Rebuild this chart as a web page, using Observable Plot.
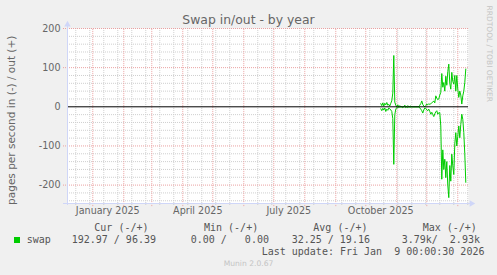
<!DOCTYPE html>
<html>
<head>
<meta charset="utf-8">
<script src="https://cdn.jsdelivr.net/npm/d3@7"></script>
<script src="https://cdn.jsdelivr.net/npm/@observablehq/plot@0.6"></script>
<style>
  html, body { margin: 0; padding: 0; background: #f0f0f0; }
  #wrap { position: relative; width: 497px; height: 275px; background: #f0f0f0; overflow: hidden; }
  #chart { position: absolute; left: 0; top: 0; }
  .t { position: absolute; line-height: 1; white-space: pre; font-family: "DejaVu Sans", sans-serif; color: #666; }
  .m { position: absolute; line-height: 1; white-space: pre; font-family: "DejaVu Sans Mono", monospace; font-size: 10px; color: #555; }
</style>
</head>
<body>
<div id="wrap">
  <div id="chart"></div>
  <div class="t" id="title" style="left:0;width:497px;top:13.5px;text-align:center;font-size:12.4px;">Swap in/out - by year</div>
  <div class="t" id="ylabel" style="left:-89px;width:200px;top:115px;text-align:center;font-size:10.5px;transform:rotate(-90deg);transform-origin:50% 50%;">pages per second in (-) / out (+)</div>
  <div class="t" id="wm" style="left:428.5px;width:120px;top:49.5px;text-align:center;font-size:7.5px;color:#c4c4c4;transform:rotate(90deg);transform-origin:50% 50%;">RRDTOOL / TOBI OETIKER</div>
  <div id="legend"></div>
  <div class="t" id="munin" style="left:0;width:497px;top:260px;text-align:center;font-size:7.6px;color:#c4c4c4;">Munin 2.0.67</div>
</div>
<script>
// ---- data ----
const seriesName = "swap";
const seriesColor = "#00cc00";
const firstDate = "2025-10-16"; // daily samples from this date
const outValues = [
  8, 3, 10, 2, 9, 5, 11, 4, 6, 2, 9, 15, 35, 131, 12, 4,
  0, 5, 0, 3, 0, 0, 0, 0, 4, 0, 0, 3, 0, 0, 2, 0, 0, 0, 0, 0, 0, 0, 0, 4, 8, 15, 6, 2, 0, 3,
  7, 5, 8, 6, 8, 10, 12, 15, 10, 28, 22, 18, 20,
  30, 37, 85, 50, 62, 40, 78, 55, 90, 109, 60, 45, 88, 65, 58, 80, 40, 80,
  45, 24, 40, 30, 7, 28, 40, 62, 96.39
];
const inValues = [
  5, 10, 4, 8, 3, 12, 6, 9, 3, 5, 8, 12, 30, 147, 20, 6,
  2, 3, 0, 1, 0, 0, 2, 0, 0, 2, 0, 2, 0, 0, 1, 0, 0, 0, 0, 0, 0, 0, 0, 3, 6, 10, 16, 8, 3, 4,
  8, 10, 6, 12, 19, 14, 20, 25, 18, 13, 10, 19, 15,
  15, 49, 185, 110, 160, 134, 181, 140, 200, 232, 150, 190, 121, 151, 173, 95, 66, 100,
  75, 49, 79, 45, 19, 32, 66, 120, 192.97
];
const xLabels = ["January 2025", "April 2025", "July 2025", "October 2025"];
const xLabelDates = ["2025-01-16", "2025-04-16", "2025-07-16", "2025-10-16"];
const yTicks = [-200, -100, 0, 100, 200];
const legendHeaders = ["Cur (-/+)", "Min (-/+)", "Avg (-/+)", "Max (-/+)"];
const legendValues = ["192.97 / 96.39", "0.00 /   0.00", "32.25 / 19.16", "3.79k/  2.93k"];
const lastUpdate = "Last update: Fri Jan  9 00:00:30 2026";

// ---- scales / layout ----
const xDomain = [new Date("2024-12-06T17:00:00Z"), new Date("2026-01-11T17:00:00Z")];
const yDomain = [-247, 200];
const day = (d, n) => d3.utcDay.offset(d, n);

const start = new Date(firstDate + "T00:00:00Z");
const outData = outValues.map((v, i) => ({date: day(start, i), value: v}));
const inData = inValues.map((v, i) => ({date: day(start, i), value: -v}));

const monthLines = d3.utcMonth.range(new Date("2025-01-01T00:00:00Z"), xDomain[1]);
const minorX = d3.utcDay.range(new Date("2024-12-15T00:00:00Z"), xDomain[1], 14)
  .filter(d => !monthLines.some(m => +m === +d));
const minorY = d3.range(-240, 201, 20).filter(v => v % 100 !== 0);
const majorY = yTicks.filter(v => v !== 0);
const labelData = xLabelDates.map((d, i) => ({date: new Date(d + "T00:00:00Z"), label: xLabels[i]}));

const minorColor = "#cfcfcf";
const majorColor = "#eaa2a2";
const axisColor = "#CFD6F8";

const chart = Plot.plot({
  width: 497,
  height: 220,
  marginLeft: 67,
  marginRight: 29,
  marginTop: 28,
  marginBottom: 17,
  x: {type: "utc", domain: xDomain, axis: null},
  y: {domain: yDomain, axis: null},
  style: {background: "transparent", fontFamily: "DejaVu Sans", fontSize: "9.6px", color: "#666", overflow: "visible"},
  marks: [
    Plot.frame({fill: "white", stroke: null}),
    Plot.ruleY(minorY, {x1: xDomain[0], x2: xDomain[1], stroke: minorColor, strokeDasharray: "1,1"}),
    Plot.ruleX(minorX, {y1: -252, y2: 200, stroke: minorColor, strokeDasharray: "1,1"}),
    Plot.ruleY(majorY, {x1: day(xDomain[0], -4), x2: xDomain[1], stroke: majorColor, strokeDasharray: "1,1"}),
    Plot.ruleX(monthLines, {y1: -255, y2: 200, stroke: majorColor, strokeDasharray: "1,1"}),
    Plot.line(outData, {x: "date", y: "value", stroke: seriesColor, strokeWidth: 1}),
    Plot.line(inData, {x: "date", y: "value", stroke: seriesColor, strokeWidth: 1}),
    Plot.ruleY([0], {x1: xDomain[0], x2: xDomain[1], stroke: "black", strokeWidth: 1}),
    Plot.ruleX([xDomain[0]], {y1: -252, y2: 211, stroke: axisColor}),
    Plot.ruleY([yDomain[0]], {x1: day(xDomain[0], -4), x2: day(xDomain[1], 2), stroke: axisColor}),
    Plot.dot([{x: xDomain[0], y: 210}], {x: "x", y: "y", symbol: "triangle", r: 2.4, fill: axisColor, stroke: null}),
    Plot.dot([{x: day(xDomain[1], 3), y: yDomain[0]}], {x: "x", y: "y", symbol: "triangle", r: 2.4, rotate: 90, fill: axisColor, stroke: null}),
    Plot.text(yTicks, {y: d => d, text: d => String(d), frameAnchor: "left", dx: -7, textAnchor: "end", fill: "#666", fontSize: 9.6}),
    Plot.text(labelData, {x: "date", text: "label", frameAnchor: "bottom", lineAnchor: "top", dy: 4, fill: "#666", fontSize: 9.6})
  ]
});
document.getElementById("chart").appendChild(chart);

// ---- legend (text below the chart) ----
const legend = document.getElementById("legend");
function addText(cls, txt, left, top) {
  const el = document.createElement("div");
  el.className = cls;
  el.textContent = txt;
  el.style.left = left + "px";
  el.style.top = top + "px";
  legend.appendChild(el);
}
const headerX = [94.3, 204, 313.3, 422.7];
const valueX = [71.7, 190.7, 291.7, 401.7];
legendHeaders.forEach((h, i) => addText("m", h, headerX[i], 223.2));
const sw = document.createElement("div");
sw.style.cssText = "position:absolute;left:14px;top:236.5px;width:6px;height:6px;background:" + seriesColor + ";";
legend.appendChild(sw);
addText("m", seriesName, 26.7, 234.8);
legendValues.forEach((v, i) => addText("m", v, valueX[i], 234.8));
addText("m", lastUpdate, 261.7, 246.6);
</script>
</body>
</html>
